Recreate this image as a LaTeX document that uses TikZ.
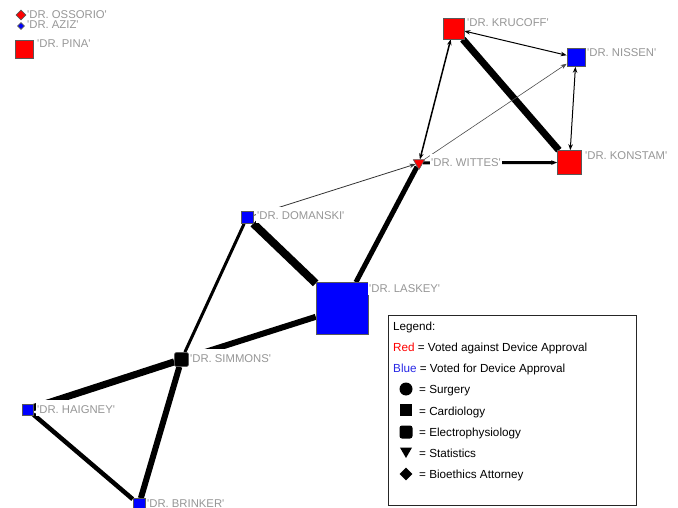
\documentclass[tikz,border=0pt]{standalone}
\usepackage{fontspec}
\setmainfont{Liberation Sans}
\usetikzlibrary{shapes.geometric,arrows.meta}
\pgfdeclarelayer{edges}
\pgfsetlayers{edges,main}
\definecolor{lblgray}{RGB}{150,150,150}
\definecolor{votered}{RGB}{255,0,0}
\definecolor{voteblue}{RGB}{0,0,255}
\definecolor{legblue}{RGB}{40,40,230}
\newcommand\sQ{\textquotesingle}

\begin{document}
\begin{tikzpicture}[x=1pt,y=-1pt,
  member/.style={draw=black!65,line width=0.6pt,inner sep=0pt,minimum size=#1},
  redsq/.style={member=#1,rectangle,fill=votered},
  bluesq/.style={member=#1,rectangle,fill=voteblue},
  lbl/.style={anchor=base west,fill=white,inner xsep=1pt,inner ysep=0pt,
    text height=13pt,text depth=3pt,text=lblgray,font=\fontsize{11.3}{13}\selectfont},
  isolbl/.style={lbl,fill=none},
  link/.style={line width=#1,draw=black},
  tip/.style={-{Stealth[length=6pt,width=4.5pt]}},
  tips/.style={{Stealth[length=6pt,width=4.5pt]}-{Stealth[length=6pt,width=4.5pt]}},
  legtxt/.style={anchor=west,inner sep=0pt,text height=8.4pt,text depth=0pt,
    font=\fontsize{11.7}{14}\selectfont},
  legsym/.style={fill=black,inner sep=0pt}
]
\useasboundingbox (0,0) rectangle (678,508);

% committee members
\node[member=10,diamond,fill=votered] (oss) at (21,15) {};
\node[member=7,diamond,fill=voteblue] (azi) at (21,26) {};
\node[redsq=18] (pin) at (24,49.5) {};
\node[redsq=21] (kru) at (453.5,28.5) {};
\node[bluesq=18] (nis) at (576,57.5) {};
\node[redsq=24] (kon) at (569.5,162.5) {};
\node[member=13,regular polygon,regular polygon sides=3,shape border rotate=180,fill=votered] (wit) at (419,163) {};
\node[bluesq=12] (dom) at (247,217.5) {};
\node[bluesq=52] (las) at (342,308.5) {};
\node[member=14,rectangle,rounded corners=2pt,fill=black] (sim) at (181.5,359.5) {};
\node[bluesq=11] (hai) at (27.5,409.5) {};
\node[bluesq=12] (bri) at (139,504.5) {};

% name labels (white boxes mask the ties running underneath)
\node[isolbl] (l-oss) at (26,19) {\sQ DR. OSSORIO\sQ};
\node[isolbl] (l-azi) at (26,29) {\sQ DR. AZIZ\sQ};
\node[isolbl] (l-pin) at (36,48) {\sQ DR. PINA\sQ};
\node[lbl] (l-kru) at (466,27) {\sQ DR. KRUCOFF\sQ};
\node[lbl] (l-nis) at (586,57) {\sQ DR. NISSEN\sQ};
\node[lbl] (l-kon) at (584,160) {\sQ DR. KONSTAM\sQ};
\node[lbl] (l-wit) at (430,167) {\sQ DR. WITTES\sQ};
\node[lbl] (l-dom) at (256,220) {\sQ DR. DOMANSKI\sQ};
\node[lbl] (l-las) at (368,292) {\sQ DR. LASKEY\sQ};
\node[lbl] (l-sim) at (189,362) {\sQ DR. SIMMONS\sQ};
\node[lbl] (l-hai) at (36,413) {\sQ DR. HAIGNEY\sQ};
\node[lbl] (l-bri) at (146,507) {\sQ DR. BRINKER\sQ};

% ties between members
\begin{pgfonlayer}{edges}
\draw[link=1pt,tips] (kru) -- (nis);
\draw[link=7pt] (kru) -- (kon);
\draw[link=1pt,tips] (nis) -- (kon);
\draw[line width=0.6pt,draw=black!70,tip] (wit) -- (nis);
\draw[link=1.5pt,tips] (wit) -- (kru);
\draw[link=3pt,tip] (wit) -- (kon);
\draw[line width=0.8pt,draw=black!80,tip] (dom) -- (wit);
\draw[link=5pt] (las) -- (wit);
\draw[link=8pt] (dom) -- (las);
\draw[link=3pt] (dom) -- (sim);
\draw[link=6pt] (las) -- (sim);
\draw[link=7pt] (sim) -- (hai);
\draw[link=6pt] (sim) -- (bri);
\draw[link=4.5pt] (hai) -- (bri);
\end{pgfonlayer}

% legend
\node[draw=black!85,line width=1pt,anchor=north west,inner sep=0pt,
  minimum width=248pt,minimum height=190pt] (legend) at (388,315) {};
\node[legtxt] (lg-head) at (393,326) {Legend:};
\node[legtxt] (lg-red) at (393,347) {\textcolor{votered}{Red} = Voted against Device Approval};
\node[legtxt] (lg-blue) at (393,368) {\textcolor{legblue}{Blue} = Voted for Device Approval};
\node[legsym,circle,minimum size=13pt] (sy-sur) at (406,389) {};
\node[legtxt] (lg-sur) at (419,389) {= Surgery};
\node[legsym,rectangle,minimum size=12pt] (sy-car) at (406,410) {};
\node[legtxt] (lg-car) at (419,411) {= Cardiology};
\node[legsym,rectangle,rounded corners=2.5pt,minimum size=13pt] (sy-ele) at (406,432) {};
\node[legtxt] (lg-ele) at (419,432) {= Electrophysiology};
\node[legsym,regular polygon,regular polygon sides=3,shape border rotate=180,minimum size=14pt] (sy-sta) at (406,451) {};
\node[legtxt] (lg-sta) at (419,453) {= Statistics};
\node[legsym,diamond,minimum size=13pt] (sy-bio) at (406,474) {};
\node[legtxt] (lg-bio) at (419,474) {= Bioethics Attorney};
\end{tikzpicture}
\end{document}
